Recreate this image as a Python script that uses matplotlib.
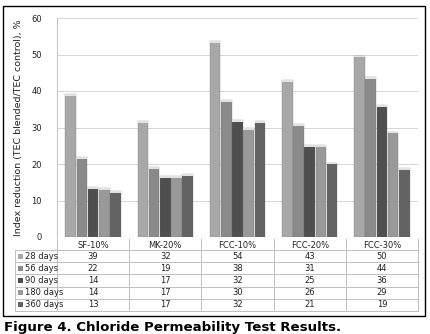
import matplotlib
matplotlib.use("Agg")
import matplotlib.pyplot as plt
from matplotlib.patches import Rectangle
from matplotlib.lines import Line2D
import numpy as np

categories = ["SF-10%", "MK-20%", "FCC-10%", "FCC-20%", "FCC-30%"]
series_names = ["28 days", "56 days", "90 days", "180 days", "360 days"]
# bar heights
bar_values = [
    [39.2, 31.7, 53.6, 42.9, 49.7],
    [21.9, 19.2, 37.5, 31.0, 43.8],
    [13.6, 16.6, 32.1, 25.2, 36.1],
    [13.3, 16.6, 29.8, 25.2, 28.9],
    [12.6, 17.2, 31.8, 20.4, 18.9],
]
# values printed in the data table
table_values = [
    [39, 32, 54, 43, 50],
    [22, 19, 38, 31, 44],
    [14, 17, 32, 25, 36],
    [14, 17, 30, 26, 29],
    [13, 17, 32, 21, 19],
]
yticks = [0, 10, 20, 30, 40, 50, 60]
colors = ["#a8a8a8", "#8a8a8a", "#4f4f4f", "#999999", "#636363"]

W, H = 430, 334
fig = plt.figure(figsize=(W / 100, H / 100), dpi=100)
fig.patch.set_facecolor("white")

def fx(px):
    return px / W

def fy(py):
    return 1 - py / H

x0, x1 = 57, 418
y_top, y_bot = 18, 237
ax = fig.add_axes([fx(x0), fy(y_bot), fx(x1) - fx(x0), fy(y_top) - fy(y_bot)])
ncat = len(categories)
x = np.arange(ncat)
bw = 0.155
for i, (name, vals) in enumerate(zip(series_names, bar_values)):
    pos = x + (i - 2) * bw
    ax.bar(pos, vals, width=bw * 0.96, color=colors[i], edgecolor="#6a6a6a",
           linewidth=0.2, zorder=3)
    ax.bar(pos, [0.5] * ncat, bottom=np.array(vals) - 0.5, width=bw * 0.96,
           color="#e2e2e2", linewidth=0, zorder=4)
ax.set_xlim(-0.5, ncat - 0.5)
ax.set_ylim(0, 60)
ax.set_yticks(yticks)
ax.set_yticklabels([str(t) for t in yticks], fontsize=6, color="#222222")
ax.set_xticks([])
ax.grid(axis="y", color="#d0d0d0", linewidth=0.6, zorder=0)
for s in ["top", "right", "bottom"]:
    ax.spines[s].set_visible(False)
ax.spines["left"].set_color("#c8c8c8")
ax.tick_params(axis="y", length=0, pad=11)
ax.set_ylabel("Index reduction (TEC blended/TEC control), %", fontsize=6.8,
              color="#222222", labelpad=6)

# data table
col_edges = [x0 + k * (x1 - x0) / ncat for k in range(ncat + 1)]
tbl_left = 15
row_top = 239
hdr_bottom = 250
row_h = 12.2
nrows = len(series_names)
tbl_bottom = hdr_bottom + nrows * row_h
lc = "#c0c0c0"
for k in range(nrows + 1):
    yy = hdr_bottom + k * row_h
    fig.add_artist(Line2D([fx(tbl_left), fx(x1)], [fy(yy), fy(yy)],
                          color=lc, lw=0.7))
for ce in col_edges:
    fig.add_artist(Line2D([fx(ce), fx(ce)], [fy(row_top), fy(tbl_bottom)],
                          color=lc, lw=0.7))
fig.add_artist(Line2D([fx(tbl_left), fx(tbl_left)], [fy(hdr_bottom), fy(tbl_bottom)],
                      color=lc, lw=0.7))
for c, cat in enumerate(categories):
    cx = (col_edges[c] + col_edges[c + 1]) / 2
    fig.text(fx(cx), fy((row_top + hdr_bottom) / 2 + 1), cat, ha="center",
             va="center", fontsize=6, color="#222222")
for r, name in enumerate(series_names):
    cy = hdr_bottom + (r + 0.5) * row_h
    fig.add_artist(Rectangle((fx(tbl_left + 3), fy(cy + 2.5)), fx(5), 5 / H,
                             facecolor=colors[r], edgecolor="none"))
    fig.text(fx(tbl_left + 10), fy(cy), name, ha="left", va="center",
             fontsize=6, color="#222222")
    for c in range(ncat):
        cx = (col_edges[c] + col_edges[c + 1]) / 2
        fig.text(fx(cx), fy(cy), str(table_values[r][c]), ha="center",
                 va="center", fontsize=6, color="#222222")

# outer border
fig.add_artist(Rectangle((fx(3), fy(316)), fx(425) - fx(3), fy(6) - fy(316),
                         fill=False, edgecolor="black", linewidth=1.0))

fig.text(fx(4), fy(327), "Figure 4. Chloride Permeability Test Results.",
         ha="left", va="center", fontsize=9.6, fontweight="bold", color="black")

fig.savefig("out.png", dpi=100, facecolor="white")
